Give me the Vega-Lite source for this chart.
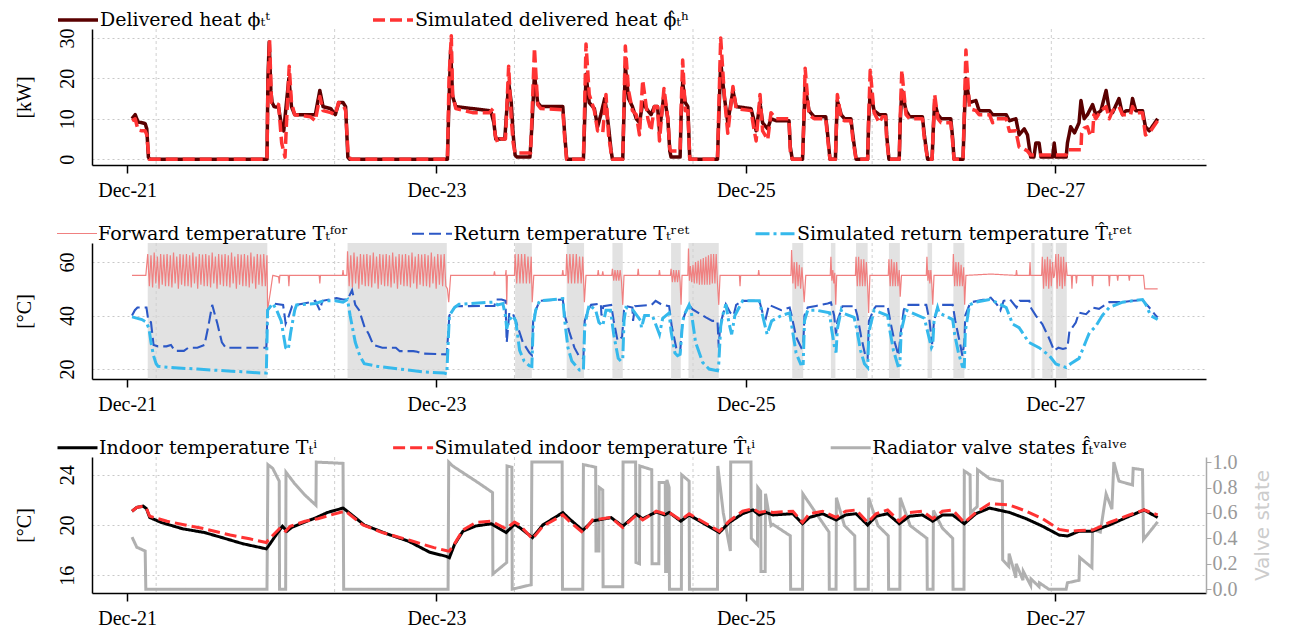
{
"$schema": "https://vega.github.io/schema/vega-lite/v6.json",
"background": "white",
"padding": {"left": 14, "top": 8, "right": 5, "bottom": 5},
"bounds": "flush",
"spacing": 78,
"resolve": {"scale": {"color": "independent", "strokeDash": "independent", "strokeWidth": "independent"}, "legend": {"color": "independent", "strokeDash": "independent", "strokeWidth": "independent"}},
"config": {
  "font": "Liberation Serif",
  "view": {"stroke": null},
  "axis": {"labelFont": "Liberation Serif", "titleFont": "Liberation Serif", "labelFontSize": 20, "titleFontSize": 20, "labelColor": "black", "titleColor": "black", "domainColor": "black", "domainWidth": 1.5, "tickColor": "black", "titleFontWeight": "normal", "gridColor": "#c8c8c8", "gridDash": [2, 3], "gridWidth": 1},
  "legend": {"labelFont": "DejaVu Serif", "labelFontSize": 19, "labelLimit": 600, "symbolType": "M-2,0L2,0", "symbolSize": 400, "orient": "none", "direction": "horizontal", "labelOffset": 10}
},
"datasets": {
"vg": [{"h":4.5},{"h":32.2},{"h":60.1},{"h":87.8},{"h":115.6},{"h":143.4}],
"shade": [{"a":3.2,"b":21.75},{"a":34.2,"b":49.6},{"a":60.2,"b":62.8},{"a":68.2,"b":70.9},{"a":75.3,"b":76.9},{"a":84.4,"b":85.9},{"a":87.1,"b":91.8},{"a":103.2,"b":104.9},{"a":109.2,"b":109.9},{"a":113.1,"b":114.9},{"a":118.2,"b":119.9},{"a":124.2,"b":124.9},{"a":128.2,"b":129.9},{"a":140.3,"b":140.8},{"a":142.0,"b":143.7},{"a":144.1,"b":145.8}],
"hd": [{"h":0.76,"d":10},{"h":1.25,"d":11},{"h":1.7,"d":9.2},{"h":2.3,"d":9},{"h":2.8,"d":8.8},{"h":3.05,"d":7.5},{"h":3.3,"d":0.5},{"h":3.5,"d":0},{"h":21.7,"d":0},{"h":21.85,"d":20},{"h":22.05,"d":29},{"h":22.3,"d":17},{"h":22.5,"d":14},{"h":22.8,"d":13},{"h":23.5,"d":12.8},{"h":23.98,"d":8},{"h":24.3,"d":7},{"h":24.6,"d":12},{"h":25.1,"d":20},{"h":25.5,"d":13},{"h":26,"d":11},{"h":28.4,"d":11},{"h":29.2,"d":11},{"h":29.9,"d":17},{"h":30.4,"d":13},{"h":31.6,"d":12.5},{"h":32.3,"d":11},{"h":32.85,"d":14},{"h":33.5,"d":14},{"h":33.9,"d":13},{"h":34.25,"d":0.5},{"h":34.5,"d":0},{"h":49.7,"d":0},{"h":49.9,"d":12},{"h":50.2,"d":27},{"h":50.5,"d":15.5},{"h":51,"d":13},{"h":53.6,"d":12.5},{"h":56.2,"d":12},{"h":56.5,"d":11.5},{"h":56.9,"d":9},{"h":57.2,"d":5},{"h":58.6,"d":5},{"h":58.9,"d":12},{"h":59.2,"d":19},{"h":59.6,"d":14},{"h":59.9,"d":6},{"h":60.2,"d":1},{"h":60.5,"d":0.5},{"h":62.5,"d":0.5},{"h":62.8,"d":8},{"h":63.2,"d":21},{"h":63.7,"d":14},{"h":64.2,"d":13},{"h":67.6,"d":13},{"h":67.9,"d":6},{"h":68.2,"d":0},{"h":70.8,"d":0},{"h":71,"d":10},{"h":71.2,"d":21},{"h":71.7,"d":14},{"h":72.5,"d":12.5},{"h":73,"d":8},{"h":73.5,"d":11},{"h":74.1,"d":15},{"h":74.4,"d":12},{"h":74.7,"d":8},{"h":75.1,"d":2},{"h":75.3,"d":0},{"h":76.9,"d":0},{"h":77.1,"d":12},{"h":77.3,"d":23},{"h":77.8,"d":15},{"h":78.4,"d":13},{"h":79,"d":10},{"h":79.5,"d":9},{"h":80,"d":14},{"h":80.8,"d":12},{"h":81.3,"d":11},{"h":81.8,"d":13},{"h":82.3,"d":13},{"h":82.6,"d":7},{"h":83.3,"d":16},{"h":83.9,"d":10},{"h":84.2,"d":2},{"h":84.4,"d":0.5},{"h":85.8,"d":0.5},{"h":85.95,"d":10},{"h":86.2,"d":19},{"h":86.6,"d":14},{"h":87,"d":13},{"h":87.3,"d":0},{"h":91.6,"d":0},{"h":91.8,"d":10},{"h":92.1,"d":24},{"h":92.7,"d":15},{"h":93.2,"d":9},{"h":94,"d":17},{"h":94.5,"d":13},{"h":96.8,"d":12.5},{"h":97.2,"d":10},{"h":97.6,"d":7},{"h":98.2,"d":14},{"h":98.6,"d":9},{"h":99.4,"d":7.5},{"h":99.9,"d":10},{"h":100.7,"d":9.5},{"h":102.7,"d":9.5},{"h":102.9,"d":3},{"h":103.2,"d":0},{"h":104.8,"d":0},{"h":105,"d":9},{"h":105.2,"d":18},{"h":105.8,"d":12},{"h":106.6,"d":10.5},{"h":108.4,"d":10.5},{"h":108.7,"d":6},{"h":109.05,"d":0},{"h":109.9,"d":0},{"h":110.05,"d":8},{"h":110.2,"d":14.5},{"h":110.8,"d":11},{"h":111.3,"d":10},{"h":112.3,"d":10},{"h":112.6,"d":6},{"h":113.1,"d":0},{"h":114.9,"d":0},{"h":115.05,"d":9},{"h":115.3,"d":17},{"h":115.9,"d":12},{"h":116.7,"d":11},{"h":117.7,"d":11},{"h":117.85,"d":6},{"h":118.2,"d":0},{"h":119.8,"d":0},{"h":119.95,"d":9},{"h":120.2,"d":17},{"h":120.85,"d":12},{"h":121.4,"d":10.5},{"h":123.4,"d":10.5},{"h":123.7,"d":6},{"h":124.2,"d":0},{"h":124.9,"d":0},{"h":125.1,"d":8},{"h":125.3,"d":14},{"h":125.8,"d":11},{"h":126.3,"d":10},{"h":127.8,"d":10},{"h":128.1,"d":5},{"h":128.3,"d":0},{"h":129.7,"d":0},{"h":129.9,"d":10},{"h":130.15,"d":20},{"h":130.7,"d":14},{"h":131.7,"d":14.5},{"h":132.2,"d":12},{"h":133.8,"d":12},{"h":134.3,"d":11},{"h":134.8,"d":11},{"h":136.4,"d":11},{"h":136.9,"d":9.5},{"h":137.9,"d":10},{"h":138.4,"d":6},{"h":139.2,"d":7.5},{"h":139.7,"d":6},{"h":140.2,"d":0.5},{"h":140.7,"d":0.5},{"h":141,"d":4},{"h":141.5,"d":4},{"h":141.8,"d":0.5},{"h":143.6,"d":0.5},{"h":143.85,"d":4},{"h":144.1,"d":0.5},{"h":145.7,"d":0.5},{"h":145.9,"d":4},{"h":146.4,"d":8},{"h":147,"d":6.5},{"h":147.7,"d":9},{"h":148,"d":14.5},{"h":148.5,"d":10},{"h":149,"d":11},{"h":149.8,"d":13.5},{"h":150.3,"d":11},{"h":151.1,"d":12},{"h":151.9,"d":17},{"h":152.4,"d":12},{"h":152.9,"d":11.5},{"h":153.9,"d":15},{"h":154.45,"d":11},{"h":155,"d":12},{"h":155.7,"d":12},{"h":156,"d":15},{"h":156.5,"d":12},{"h":157.55,"d":12},{"h":158,"d":8},{"h":158.6,"d":7},{"h":159.9,"d":10}],
"hr": [{"h":0.76,"r":9.5},{"h":1.25,"r":10},{"h":1.7,"r":7.2},{"h":2.3,"r":7},{"h":2.8,"r":7},{"h":3.05,"r":6},{"h":3.4,"r":0},{"h":21.7,"r":0},{"h":21.85,"r":18},{"h":22.1,"r":29.5},{"h":22.4,"r":14},{"h":22.8,"r":14},{"h":23.5,"r":13.5},{"h":23.98,"r":4},{"h":24.5,"r":0.5},{"h":24.7,"r":8},{"h":25.15,"r":23},{"h":25.5,"r":14},{"h":26,"r":11},{"h":28.4,"r":10.5},{"h":29.2,"r":9.5},{"h":29.9,"r":15.5},{"h":30.4,"r":12},{"h":31.6,"r":11.5},{"h":32.3,"r":11},{"h":32.8,"r":14},{"h":33.5,"r":13.5},{"h":33.9,"r":12},{"h":34.3,"r":1},{"h":34.7,"r":0},{"h":49.7,"r":0},{"h":49.95,"r":20},{"h":50.3,"r":30.5},{"h":50.5,"r":16},{"h":51,"r":12.5},{"h":53.6,"r":11.5},{"h":56.2,"r":11.5},{"h":56.5,"r":12},{"h":56.8,"r":12.5},{"h":57.1,"r":6},{"h":57.5,"r":4},{"h":58,"r":5},{"h":58.7,"r":5},{"h":58.95,"r":14},{"h":59.2,"r":23},{"h":59.6,"r":10},{"h":59.9,"r":4},{"h":60.2,"r":1.5},{"h":62.6,"r":1.5},{"h":62.8,"r":10},{"h":63.2,"r":27.5},{"h":63.7,"r":13.5},{"h":64.2,"r":12.5},{"h":67.6,"r":12.2},{"h":67.9,"r":5},{"h":68.2,"r":0},{"h":70.8,"r":0},{"h":71,"r":14},{"h":71.2,"r":28.5},{"h":71.7,"r":16},{"h":72.5,"r":12},{"h":73,"r":7},{"h":73.8,"r":6.5},{"h":74.3,"r":16},{"h":74.7,"r":6},{"h":75.1,"r":1.5},{"h":75.3,"r":0},{"h":76.9,"r":0},{"h":77.1,"r":14},{"h":77.3,"r":28},{"h":77.8,"r":17},{"h":78.4,"r":12},{"h":79,"r":11},{"h":79.5,"r":6},{"h":80,"r":19.5},{"h":80.8,"r":10},{"h":81.3,"r":7},{"h":81.8,"r":13},{"h":82.3,"r":13},{"h":82.6,"r":4.5},{"h":83.3,"r":17.5},{"h":83.9,"r":10},{"h":84.2,"r":2.5},{"h":84.4,"r":2},{"h":85.8,"r":2},{"h":85.95,"r":12},{"h":86.2,"r":24.5},{"h":86.6,"r":12},{"h":87,"r":12},{"h":87.3,"r":0},{"h":91.6,"r":0},{"h":91.8,"r":12},{"h":92.1,"r":30},{"h":92.7,"r":15},{"h":93.2,"r":6.4},{"h":94,"r":18},{"h":94.5,"r":12.5},{"h":96.8,"r":12},{"h":97.2,"r":8},{"h":97.6,"r":4.5},{"h":98.2,"r":16},{"h":98.6,"r":7},{"h":99.4,"r":4.8},{"h":99.9,"r":11.5},{"h":100.7,"r":10},{"h":102.7,"r":10},{"h":102.9,"r":2},{"h":103.2,"r":0},{"h":104.8,"r":0},{"h":105,"r":10},{"h":105.2,"r":22.5},{"h":105.8,"r":11},{"h":106.6,"r":10},{"h":108.4,"r":10},{"h":108.7,"r":5},{"h":109.05,"r":0},{"h":109.9,"r":0},{"h":110.05,"r":8},{"h":110.2,"r":16},{"h":110.8,"r":10},{"h":111.3,"r":9.5},{"h":112.3,"r":9.5},{"h":112.6,"r":5},{"h":113.1,"r":0},{"h":114.9,"r":0},{"h":115.05,"r":10},{"h":115.3,"r":22},{"h":115.9,"r":11.5},{"h":116.7,"r":9},{"h":117.2,"r":10.5},{"h":117.7,"r":10.5},{"h":117.85,"r":5},{"h":118.2,"r":0},{"h":119.8,"r":0},{"h":119.95,"r":10},{"h":120.2,"r":22},{"h":120.85,"r":11},{"h":121.4,"r":10},{"h":123.4,"r":10},{"h":123.7,"r":5},{"h":124.2,"r":0},{"h":124.9,"r":0},{"h":125.1,"r":8},{"h":125.3,"r":16},{"h":125.8,"r":10},{"h":126.3,"r":9},{"h":127.8,"r":9},{"h":128.1,"r":4},{"h":128.3,"r":0},{"h":129.7,"r":0},{"h":129.9,"r":12},{"h":130.15,"r":27},{"h":130.7,"r":12.5},{"h":131.7,"r":12},{"h":132.2,"r":11},{"h":133.8,"r":11},{"h":134.3,"r":9},{"h":134.8,"r":10},{"h":136.4,"r":10},{"h":136.9,"r":6.9},{"h":137.9,"r":7},{"h":138.4,"r":3},{"h":139.2,"r":2.5},{"h":139.7,"r":2},{"h":140.2,"r":1},{"h":145.7,"r":1},{"h":145.9,"r":2.3},{"h":148,"r":2.3},{"h":148.1,"r":6.4},{"h":148.5,"r":7.7},{"h":149,"r":8},{"h":149.4,"r":6},{"h":149.8,"r":6},{"h":150,"r":11},{"h":150.3,"r":10},{"h":151.1,"r":12},{"h":151.9,"r":13},{"h":152.4,"r":10},{"h":152.9,"r":12},{"h":153.9,"r":13},{"h":154.45,"r":11},{"h":155.7,"r":11},{"h":156,"r":13},{"h":156.5,"r":11.5},{"h":157.55,"r":11.5},{"h":158,"r":6},{"h":158.6,"r":6.5},{"h":159.9,"r":9.5}],
"fw": [{"h":0.76,"f":55},{"h":2.9,"f":55},{"h":3.2,"f":63},{"h":3.45,"f":51},{"h":3.7,"f":62.5},{"h":3.95,"f":50.5},{"h":4.2,"f":63.5},{"h":4.45,"f":52},{"h":4.7,"f":62},{"h":4.95,"f":50},{"h":5.2,"f":63},{"h":5.45,"f":51.5},{"h":5.7,"f":62.8},{"h":5.95,"f":51},{"h":6.2,"f":63},{"h":6.45,"f":51},{"h":6.7,"f":62.5},{"h":6.95,"f":50.5},{"h":7.2,"f":63.5},{"h":7.45,"f":52},{"h":7.7,"f":62},{"h":7.95,"f":50},{"h":8.2,"f":63},{"h":8.45,"f":51.5},{"h":8.7,"f":62.8},{"h":8.95,"f":51},{"h":9.2,"f":63},{"h":9.45,"f":51},{"h":9.7,"f":62.5},{"h":9.95,"f":50.5},{"h":10.2,"f":63.5},{"h":10.45,"f":52},{"h":10.7,"f":62},{"h":10.95,"f":50},{"h":11.2,"f":63},{"h":11.45,"f":51.5},{"h":11.7,"f":62.8},{"h":11.95,"f":51},{"h":12.2,"f":63},{"h":12.45,"f":51},{"h":12.7,"f":62.5},{"h":12.95,"f":50.5},{"h":13.2,"f":63.5},{"h":13.45,"f":52},{"h":13.7,"f":62},{"h":13.95,"f":50},{"h":14.2,"f":63},{"h":14.45,"f":51.5},{"h":14.7,"f":62.8},{"h":14.95,"f":51},{"h":15.2,"f":63},{"h":15.45,"f":51},{"h":15.7,"f":62.5},{"h":15.95,"f":50.5},{"h":16.2,"f":63.5},{"h":16.45,"f":52},{"h":16.7,"f":62},{"h":16.95,"f":50},{"h":17.2,"f":63},{"h":17.45,"f":51.5},{"h":17.7,"f":62.8},{"h":17.95,"f":51},{"h":18.2,"f":63},{"h":18.45,"f":51},{"h":18.7,"f":62.5},{"h":18.95,"f":50.5},{"h":19.2,"f":63.5},{"h":19.45,"f":52},{"h":19.7,"f":62},{"h":19.95,"f":50},{"h":20.2,"f":63},{"h":20.45,"f":51.5},{"h":20.7,"f":62.8},{"h":20.95,"f":51},{"h":21.2,"f":63},{"h":21.45,"f":51},{"h":21.7,"f":62.5},{"h":21.8,"f":42},{"h":22.3,"f":50},{"h":22.6,"f":55},{"h":23.5,"f":54.5},{"h":23.6,"f":52},{"h":23.7,"f":55},{"h":25,"f":55},{"h":25.1,"f":51},{"h":25.2,"f":55},{"h":29.8,"f":55},{"h":29.9,"f":52},{"h":30,"f":55},{"h":33.4,"f":55},{"h":33.5,"f":57},{"h":33.6,"f":55},{"h":34.1,"f":55},{"h":34.2,"f":64},{"h":34.45,"f":51},{"h":34.7,"f":62.5},{"h":34.95,"f":50.5},{"h":35.2,"f":63.5},{"h":35.45,"f":52},{"h":35.7,"f":62},{"h":35.95,"f":50},{"h":36.2,"f":63},{"h":36.45,"f":51.5},{"h":36.7,"f":62.8},{"h":36.95,"f":51},{"h":37.2,"f":63},{"h":37.45,"f":51},{"h":37.7,"f":62.5},{"h":37.95,"f":50.5},{"h":38.2,"f":63.5},{"h":38.45,"f":52},{"h":38.7,"f":62},{"h":38.95,"f":50},{"h":39.2,"f":63},{"h":39.45,"f":51.5},{"h":39.7,"f":62.8},{"h":39.95,"f":51},{"h":40.2,"f":63},{"h":40.45,"f":51},{"h":40.7,"f":62.5},{"h":40.95,"f":50.5},{"h":41.2,"f":63.5},{"h":41.45,"f":52},{"h":41.7,"f":62},{"h":41.95,"f":50},{"h":42.2,"f":63},{"h":42.45,"f":51.5},{"h":42.7,"f":62.8},{"h":42.95,"f":51},{"h":43.2,"f":63},{"h":43.45,"f":51},{"h":43.7,"f":62.5},{"h":43.95,"f":50.5},{"h":44.2,"f":63.5},{"h":44.45,"f":52},{"h":44.7,"f":62},{"h":44.95,"f":50},{"h":45.2,"f":63},{"h":45.45,"f":51.5},{"h":45.7,"f":62.8},{"h":45.95,"f":51},{"h":46.2,"f":63},{"h":46.45,"f":51},{"h":46.7,"f":62.5},{"h":46.95,"f":50.5},{"h":47.2,"f":63.5},{"h":47.45,"f":52},{"h":47.7,"f":62},{"h":47.95,"f":50},{"h":48.2,"f":63},{"h":48.45,"f":51.5},{"h":48.7,"f":62.8},{"h":48.95,"f":51},{"h":49.2,"f":63},{"h":49.45,"f":51},{"h":49.7,"f":50},{"h":49.9,"f":45},{"h":50.2,"f":55},{"h":56.9,"f":55},{"h":57,"f":56.5},{"h":57.1,"f":55},{"h":58.7,"f":55},{"h":58.8,"f":57},{"h":58.9,"f":44},{"h":59,"f":55},{"h":60.1,"f":55},{"h":60.2,"f":63},{"h":60.45,"f":52},{"h":60.7,"f":63},{"h":60.95,"f":52},{"h":61.2,"f":63},{"h":61.45,"f":52},{"h":61.7,"f":63},{"h":61.95,"f":52},{"h":62.2,"f":62},{"h":62.45,"f":52},{"h":62.7,"f":62},{"h":62.85,"f":45},{"h":63.1,"f":55},{"h":67.5,"f":55},{"h":67.6,"f":57},{"h":67.7,"f":55},{"h":68.1,"f":55},{"h":68.2,"f":63},{"h":68.45,"f":52},{"h":68.7,"f":63},{"h":68.95,"f":52},{"h":69.2,"f":63},{"h":69.45,"f":52},{"h":69.7,"f":63},{"h":69.95,"f":52},{"h":70.2,"f":62},{"h":70.45,"f":52},{"h":70.7,"f":62},{"h":70.95,"f":45},{"h":71.2,"f":55},{"h":73,"f":55},{"h":73.1,"f":57},{"h":73.2,"f":55},{"h":73.7,"f":55},{"h":73.8,"f":56.5},{"h":73.9,"f":55},{"h":75.2,"f":55},{"h":75.3,"f":57.5},{"h":75.5,"f":53},{"h":75.7,"f":57},{"h":75.9,"f":53},{"h":76.1,"f":57},{"h":76.3,"f":53},{"h":76.5,"f":57},{"h":76.7,"f":53},{"h":76.9,"f":44},{"h":77.1,"f":55},{"h":79.2,"f":55},{"h":79.3,"f":57.5},{"h":79.4,"f":55},{"h":82.5,"f":55},{"h":82.6,"f":57},{"h":82.7,"f":55},{"h":84.3,"f":55},{"h":84.4,"f":57.5},{"h":84.6,"f":52.5},{"h":84.8,"f":57},{"h":85,"f":52.5},{"h":85.2,"f":57},{"h":85.4,"f":52.5},{"h":85.6,"f":57},{"h":85.8,"f":52.5},{"h":85.95,"f":44},{"h":86.1,"f":55},{"h":87,"f":55},{"h":87.1,"f":65},{"h":87.25,"f":53},{"h":87.4,"f":58.5},{"h":87.6,"f":52.5},{"h":87.8,"f":59},{"h":88,"f":52},{"h":88.2,"f":60},{"h":88.4,"f":52},{"h":88.6,"f":60.5},{"h":88.8,"f":51.5},{"h":89,"f":61},{"h":89.2,"f":51.5},{"h":89.4,"f":61.5},{"h":89.6,"f":51.5},{"h":89.8,"f":62},{"h":90,"f":51.5},{"h":90.2,"f":62.5},{"h":90.4,"f":51.5},{"h":90.6,"f":63},{"h":90.8,"f":52},{"h":91,"f":63},{"h":91.2,"f":52},{"h":91.4,"f":63},{"h":91.6,"f":52},{"h":91.8,"f":44},{"h":92,"f":55},{"h":95,"f":55},{"h":95.1,"f":51},{"h":95.2,"f":55},{"h":97.9,"f":55},{"h":98,"f":57},{"h":98.1,"f":55},{"h":103.0,"f":55},{"h":103.1,"f":64.5},{"h":103.3,"f":52},{"h":103.5,"f":60},{"h":103.7,"f":50},{"h":103.9,"f":60},{"h":104.1,"f":51},{"h":104.3,"f":59},{"h":104.5,"f":50},{"h":104.7,"f":58},{"h":104.9,"f":51},{"h":105.05,"f":45},{"h":105.3,"f":55},{"h":109.1,"f":55},{"h":109.2,"f":62},{"h":109.35,"f":53},{"h":109.5,"f":57},{"h":109.65,"f":52},{"h":109.8,"f":56},{"h":109.95,"f":44},{"h":110.1,"f":55},{"h":113,"f":55},{"h":113.1,"f":62},{"h":113.3,"f":51},{"h":113.5,"f":62},{"h":113.7,"f":51},{"h":113.9,"f":61},{"h":114.1,"f":51},{"h":114.3,"f":61},{"h":114.5,"f":51},{"h":114.7,"f":60},{"h":114.9,"f":51},{"h":115.05,"f":41},{"h":115.25,"f":55},{"h":118.1,"f":55},{"h":118.2,"f":61},{"h":118.4,"f":51},{"h":118.6,"f":61},{"h":118.8,"f":51},{"h":119,"f":60},{"h":119.2,"f":51},{"h":119.4,"f":60},{"h":119.6,"f":51},{"h":119.8,"f":57},{"h":119.95,"f":47},{"h":120.15,"f":55},{"h":124,"f":55},{"h":124.1,"f":62},{"h":124.25,"f":53},{"h":124.4,"f":57},{"h":124.55,"f":52},{"h":124.7,"f":57},{"h":124.85,"f":52},{"h":125,"f":44},{"h":125.2,"f":55},{"h":128.1,"f":55},{"h":128.2,"f":63},{"h":128.4,"f":51},{"h":128.6,"f":60},{"h":128.8,"f":51},{"h":129,"f":60},{"h":129.2,"f":51},{"h":129.4,"f":59},{"h":129.6,"f":51},{"h":129.8,"f":58},{"h":129.95,"f":44},{"h":130.15,"f":55},{"h":134,"f":55.5},{"h":137.9,"f":55},{"h":138,"f":57},{"h":138.1,"f":55},{"h":140,"f":55},{"h":140.1,"f":60},{"h":140.2,"f":55},{"h":141.9,"f":55},{"h":142,"f":62},{"h":142.2,"f":50},{"h":142.4,"f":61},{"h":142.6,"f":51},{"h":142.8,"f":62},{"h":143,"f":50},{"h":143.2,"f":61},{"h":143.4,"f":51},{"h":143.6,"f":60},{"h":143.75,"f":54},{"h":143.9,"f":55},{"h":144.1,"f":63},{"h":144.3,"f":50},{"h":144.5,"f":63},{"h":144.7,"f":51},{"h":144.9,"f":62},{"h":145.1,"f":50},{"h":145.3,"f":62},{"h":145.5,"f":51},{"h":145.7,"f":60},{"h":145.85,"f":55},{"h":146.5,"f":55},{"h":146.6,"f":50},{"h":146.7,"f":55},{"h":147.2,"f":55},{"h":147.3,"f":52},{"h":147.4,"f":55},{"h":149.7,"f":55},{"h":149.8,"f":51},{"h":149.9,"f":55},{"h":152.3,"f":55},{"h":152.4,"f":51},{"h":152.5,"f":55},{"h":153.6,"f":55},{"h":153.7,"f":53},{"h":153.8,"f":55},{"h":155.4,"f":55},{"h":155.5,"f":53},{"h":155.6,"f":55},{"h":157.7,"f":55},{"h":157.9,"f":50},{"h":159.9,"f":50}],
"rt": [{"h":0.76,"t":40},{"h":1.2,"t":42},{"h":1.6,"t":43},{"h":3.0,"t":43},{"h":3.3,"t":38},{"h":3.7,"t":37.5},{"h":4.1,"t":29},{"h":4.8,"t":28.5},{"h":6.1,"t":28.5},{"h":6.8,"t":29},{"h":7.4,"t":26.8},{"h":8.8,"t":26.8},{"h":9.5,"t":28},{"h":10.9,"t":28},{"h":12,"t":29},{"h":12.6,"t":36},{"h":13.2,"t":44},{"h":14,"t":37},{"h":14.7,"t":30},{"h":15.3,"t":28},{"h":21.6,"t":28},{"h":21.8,"t":42},{"h":22.6,"t":44.5},{"h":24.2,"t":44},{"h":24.6,"t":37},{"h":25.1,"t":40},{"h":25.6,"t":43.5},{"h":26.3,"t":44},{"h":28.5,"t":45},{"h":29.2,"t":45.5},{"h":29.9,"t":42},{"h":30.3,"t":45.5},{"h":32.5,"t":46.5},{"h":33.5,"t":46},{"h":34.2,"t":46},{"h":34.9,"t":49.5},{"h":35.4,"t":44},{"h":36,"t":42},{"h":36.8,"t":36},{"h":37.5,"t":33},{"h":38.2,"t":29},{"h":39.6,"t":28},{"h":41.7,"t":28},{"h":42.3,"t":26.7},{"h":44.4,"t":26.7},{"h":45,"t":26.5},{"h":45.8,"t":25.8},{"h":49.6,"t":25.5},{"h":50,"t":40},{"h":50.8,"t":43},{"h":51,"t":43.5},{"h":57,"t":43.6},{"h":57.2,"t":46},{"h":58.1,"t":46},{"h":58.7,"t":45.5},{"h":58.9,"t":30},{"h":59.3,"t":41},{"h":59.8,"t":41},{"h":60.3,"t":38},{"h":61.4,"t":30},{"h":62.4,"t":26.2},{"h":62.8,"t":25.2},{"h":63,"t":38},{"h":63.4,"t":42},{"h":64,"t":45.5},{"h":67.6,"t":46},{"h":67.9,"t":40},{"h":68.6,"t":34},{"h":69.4,"t":28},{"h":70.2,"t":24.5},{"h":70.8,"t":24},{"h":71,"t":38},{"h":71.5,"t":42},{"h":72,"t":44},{"h":73.5,"t":44.5},{"h":73.6,"t":40},{"h":73.9,"t":43.5},{"h":75.1,"t":44},{"h":75.5,"t":38},{"h":76.1,"t":30.6},{"h":76.8,"t":32},{"h":77.1,"t":42},{"h":77.4,"t":43.5},{"h":78.4,"t":43},{"h":78.5,"t":38},{"h":78.8,"t":43.5},{"h":81.4,"t":44},{"h":82,"t":45.5},{"h":83,"t":44},{"h":84.1,"t":43.5},{"h":84.5,"t":36},{"h":85.2,"t":28},{"h":85.8,"t":26.2},{"h":86.2,"t":38},{"h":86.6,"t":41},{"h":87.2,"t":44},{"h":87.7,"t":42.4},{"h":89.8,"t":39.3},{"h":90.8,"t":38},{"h":91.6,"t":38},{"h":91.8,"t":28},{"h":92,"t":36},{"h":92.4,"t":40},{"h":92.9,"t":44.2},{"h":93.6,"t":41},{"h":94.1,"t":40},{"h":94.5,"t":44},{"h":95.5,"t":45.5},{"h":98.1,"t":45.5},{"h":98.6,"t":41},{"h":99.1,"t":39},{"h":99.6,"t":44},{"h":101.5,"t":42},{"h":102.8,"t":43},{"h":103.1,"t":40},{"h":103.8,"t":32},{"h":104.6,"t":28},{"h":104.9,"t":29},{"h":105.1,"t":40},{"h":105.6,"t":43},{"h":106.9,"t":43.6},{"h":108.7,"t":44.5},{"h":109.2,"t":44.9},{"h":109.7,"t":40},{"h":110,"t":33},{"h":110.2,"t":38},{"h":110.8,"t":42},{"h":111,"t":43.5},{"h":112.9,"t":43.5},{"h":113.3,"t":40},{"h":113.9,"t":32},{"h":114.6,"t":24.4},{"h":114.9,"t":24},{"h":115.1,"t":38},{"h":115.9,"t":42.5},{"h":116.2,"t":43.5},{"h":118,"t":43.5},{"h":118.4,"t":38},{"h":119.1,"t":30},{"h":119.7,"t":25},{"h":120,"t":33},{"h":120.5,"t":42},{"h":120.85,"t":44},{"h":124,"t":44},{"h":124.5,"t":38},{"h":124.9,"t":29.3},{"h":125.2,"t":38},{"h":125.75,"t":43},{"h":126,"t":44},{"h":128.1,"t":44},{"h":128.5,"t":38},{"h":129.2,"t":30},{"h":129.6,"t":25},{"h":129.9,"t":30},{"h":130.05,"t":40},{"h":130.7,"t":44},{"h":131,"t":45},{"h":133,"t":46},{"h":134,"t":46.7},{"h":135,"t":44},{"h":135.5,"t":42},{"h":136,"t":45.5},{"h":137,"t":46},{"h":138,"t":43},{"h":138.5,"t":45.5},{"h":140,"t":45.5},{"h":140.2,"t":43},{"h":141,"t":40},{"h":142,"t":36.8},{"h":143,"t":31.8},{"h":143.85,"t":26.9},{"h":144.5,"t":28},{"h":145.2,"t":27.5},{"h":145.9,"t":28},{"h":146.2,"t":34},{"h":147.2,"t":37.4},{"h":147.7,"t":41.1},{"h":148.8,"t":40.5},{"h":149.8,"t":43},{"h":150.8,"t":42.5},{"h":152.4,"t":45},{"h":154.45,"t":45},{"h":156,"t":45.5},{"h":157.55,"t":45.8},{"h":158.6,"t":43},{"h":159.6,"t":40},{"h":159.9,"t":39.3}],
"sr": [{"h":0.76,"s":39.5},{"h":2.3,"s":38.5},{"h":3.0,"s":37.5},{"h":3.4,"s":35},{"h":3.7,"s":30},{"h":4.1,"s":25},{"h":4.5,"s":22},{"h":4.8,"s":21},{"h":7.4,"s":20.5},{"h":10.9,"s":20},{"h":14.3,"s":19.5},{"h":17.8,"s":19},{"h":21.2,"s":18.5},{"h":21.6,"s":18.5},{"h":21.8,"s":42},{"h":22.6,"s":44.5},{"h":23.2,"s":42},{"h":23.9,"s":38},{"h":24.6,"s":28},{"h":25,"s":27.3},{"h":25.4,"s":34},{"h":26,"s":42},{"h":26.3,"s":44},{"h":29.2,"s":44.5},{"h":30.5,"s":45.5},{"h":32.3,"s":45.5},{"h":33.5,"s":45},{"h":34.2,"s":46},{"h":34.6,"s":40},{"h":35.4,"s":30},{"h":36.1,"s":25},{"h":36.8,"s":22},{"h":38.9,"s":21},{"h":42.3,"s":20},{"h":45.8,"s":19},{"h":49.2,"s":18.5},{"h":49.6,"s":18.2},{"h":50,"s":40},{"h":50.8,"s":43},{"h":51.5,"s":44.2},{"h":56.7,"s":45},{"h":57.5,"s":44},{"h":58.3,"s":44.5},{"h":58.7,"s":40},{"h":58.9,"s":35},{"h":59.2,"s":38},{"h":59.8,"s":40},{"h":60.3,"s":38},{"h":60.9,"s":27},{"h":61.6,"s":23},{"h":62.4,"s":21.3},{"h":62.8,"s":21},{"h":63,"s":36},{"h":63.4,"s":42},{"h":64,"s":45.5},{"h":67.6,"s":46.3},{"h":67.9,"s":38},{"h":68.4,"s":28},{"h":69,"s":23},{"h":70.2,"s":19.6},{"h":70.8,"s":19.5},{"h":71,"s":36},{"h":71.5,"s":42},{"h":71.7,"s":44},{"h":72.7,"s":42},{"h":73.2,"s":37.4},{"h":73.8,"s":36.2},{"h":74.3,"s":42},{"h":75,"s":42},{"h":75.5,"s":33},{"h":76.2,"s":24},{"h":76.6,"s":23},{"h":76.9,"s":23.5},{"h":77.1,"s":38},{"h":77.4,"s":43},{"h":78.5,"s":42},{"h":79.7,"s":38},{"h":79.8,"s":35.5},{"h":80.3,"s":40},{"h":81.5,"s":40},{"h":82.6,"s":33},{"h":83.1,"s":39},{"h":84.1,"s":41},{"h":84.4,"s":34},{"h":85,"s":26},{"h":85.4,"s":25},{"h":85.8,"s":25.5},{"h":86.2,"s":38},{"h":86.6,"s":41},{"h":87.2,"s":44},{"h":87.5,"s":42},{"h":88.2,"s":30},{"h":89.3,"s":22.5},{"h":90.3,"s":20},{"h":91.6,"s":19.4},{"h":91.8,"s":22},{"h":92.1,"s":36},{"h":92.4,"s":40},{"h":92.9,"s":44.2},{"h":93.4,"s":37},{"h":93.8,"s":33},{"h":94.3,"s":40},{"h":95.5,"s":45.5},{"h":98.1,"s":45.5},{"h":98.6,"s":40},{"h":99.3,"s":33},{"h":100,"s":38},{"h":101.5,"s":40},{"h":102.8,"s":41},{"h":103.2,"s":35},{"h":103.8,"s":26},{"h":104.5,"s":21.9},{"h":104.9,"s":22},{"h":105.1,"s":38},{"h":105.6,"s":42},{"h":106.9,"s":42},{"h":109,"s":41},{"h":109.3,"s":35},{"h":109.8,"s":27.5},{"h":110,"s":26.2},{"h":110.2,"s":35},{"h":110.8,"s":42},{"h":111,"s":41},{"h":112.8,"s":39.3},{"h":113.2,"s":35},{"h":113.8,"s":27},{"h":114.4,"s":22},{"h":114.9,"s":20.6},{"h":115.1,"s":34},{"h":115.9,"s":42},{"h":118,"s":40},{"h":118.3,"s":35},{"h":118.9,"s":27},{"h":119.6,"s":21.3},{"h":119.9,"s":21.5},{"h":120.1,"s":34},{"h":120.85,"s":42},{"h":123.7,"s":39},{"h":124.2,"s":34},{"h":124.8,"s":28},{"h":125,"s":29},{"h":125.2,"s":38},{"h":125.75,"s":43},{"h":126,"s":41},{"h":128.1,"s":38.5},{"h":128.4,"s":33},{"h":129,"s":26},{"h":129.6,"s":21},{"h":129.9,"s":20.9},{"h":130.05,"s":34},{"h":130.7,"s":44},{"h":131.7,"s":45},{"h":133.8,"s":46},{"h":134.8,"s":45},{"h":136.4,"s":43},{"h":137.4,"s":36.8},{"h":138.4,"s":35.5},{"h":139.9,"s":30},{"h":141.5,"s":28},{"h":143.1,"s":25},{"h":144.1,"s":21.9},{"h":145.7,"s":20.6},{"h":146.4,"s":22},{"h":147.7,"s":24},{"h":148.8,"s":30.6},{"h":149.3,"s":33.5},{"h":150.3,"s":36},{"h":151.3,"s":40},{"h":152.4,"s":43},{"h":154.45,"s":45},{"h":157.55,"s":46},{"h":158.1,"s":44},{"h":158.8,"s":40},{"h":159.9,"s":38.5}],
"ti": [{"h":0.76,"i":21.1},{"h":1.5,"i":21.4},{"h":2.5,"i":21.5},{"h":3,"i":21.3},{"h":3.5,"i":20.6},{"h":5.3,"i":20.2},{"h":8.6,"i":19.7},{"h":12,"i":19.4},{"h":14.7,"i":19.0},{"h":18,"i":18.5},{"h":21.6,"i":18.1},{"h":21.9,"i":18.3},{"h":23.1,"i":19.2},{"h":24.1,"i":19.9},{"h":24.8,"i":19.5},{"h":25.5,"i":19.8},{"h":28.4,"i":20.4},{"h":29.4,"i":20.6},{"h":31.1,"i":21.0},{"h":33.5,"i":21.35},{"h":33.9,"i":21.2},{"h":36.8,"i":20.0},{"h":40.3,"i":19.3},{"h":43.7,"i":18.7},{"h":46.9,"i":17.84},{"h":49.5,"i":17.5},{"h":50,"i":17.39},{"h":50.8,"i":18.45},{"h":52.1,"i":19.5},{"h":54.1,"i":19.92},{"h":56.5,"i":20.1},{"h":58.8,"i":19.4},{"h":60.1,"i":20.05},{"h":60.9,"i":19.8},{"h":62.9,"i":19.0},{"h":64.5,"i":20.0},{"h":67.6,"i":20.99},{"h":68.6,"i":20.5},{"h":70.7,"i":19.57},{"h":72.2,"i":20.32},{"h":75.1,"i":20.59},{"h":76.9,"i":19.9},{"h":79,"i":20.85},{"h":80,"i":20.5},{"h":82.1,"i":21.04},{"h":83.4,"i":20.8},{"h":84.1,"i":21.0},{"h":85.9,"i":20.3},{"h":87.2,"i":20.8},{"h":91.9,"i":19.4},{"h":93.4,"i":20.19},{"h":95.5,"i":20.9},{"h":97.1,"i":21.2},{"h":98.1,"i":20.8},{"h":99.1,"i":21.0},{"h":100.2,"i":20.8},{"h":103.3,"i":20.9},{"h":104.8,"i":20.1},{"h":105.85,"i":20.6},{"h":107.9,"i":20.9},{"h":110,"i":20.4},{"h":111.5,"i":20.8},{"h":113.1,"i":20.9},{"h":114.9,"i":20.0},{"h":116.2,"i":20.7},{"h":118,"i":20.9},{"h":119.8,"i":20.1},{"h":121.4,"i":20.7},{"h":123.4,"i":20.8},{"h":125,"i":20.3},{"h":126.5,"i":20.8},{"h":128.1,"i":20.8},{"h":129.9,"i":20.1},{"h":131.7,"i":20.9},{"h":133.8,"i":21.35},{"h":136.9,"i":21.0},{"h":139.5,"i":20.5},{"h":142.05,"i":19.9},{"h":144.6,"i":19.2},{"h":145.9,"i":19.12},{"h":147.7,"i":19.5},{"h":149.8,"i":19.5},{"h":152.4,"i":20.0},{"h":155.5,"i":20.7},{"h":157.8,"i":21.2},{"h":159.9,"i":20.6}],
"si": [{"h":0.76,"j":21.1},{"h":1.5,"j":21.4},{"h":2.5,"j":21.5},{"h":3,"j":21.3},{"h":3.5,"j":20.7},{"h":6.2,"j":20.3},{"h":9,"j":20.0},{"h":12,"j":19.7},{"h":16,"j":19.2},{"h":19,"j":18.9},{"h":21.6,"j":18.6},{"h":21.9,"j":18.8},{"h":23.8,"j":19.8},{"h":24.6,"j":19.5},{"h":25.3,"j":19.9},{"h":27.6,"j":20.3},{"h":29.6,"j":20.5},{"h":33,"j":21.0},{"h":33.9,"j":21.1},{"h":36.6,"j":20.0},{"h":39.6,"j":19.4},{"h":43.7,"j":18.8},{"h":47.6,"j":18.2},{"h":49.6,"j":17.95},{"h":50,"j":17.92},{"h":50.8,"j":18.5},{"h":52.1,"j":19.6},{"h":54.1,"j":20.2},{"h":56.5,"j":20.3},{"h":58.8,"j":19.7},{"h":60.1,"j":20.24},{"h":60.9,"j":20.0},{"h":62.9,"j":18.9},{"h":64.5,"j":19.9},{"h":67.6,"j":20.8},{"h":68.6,"j":20.3},{"h":70.7,"j":19.4},{"h":72.2,"j":20.4},{"h":75.1,"j":20.6},{"h":76.9,"j":19.8},{"h":79,"j":20.8},{"h":80,"j":20.4},{"h":82.1,"j":21.1},{"h":83.4,"j":20.9},{"h":84.1,"j":21.0},{"h":85.9,"j":20.4},{"h":87.2,"j":20.9},{"h":91.9,"j":19.5},{"h":93.4,"j":20.3},{"h":95.5,"j":21.1},{"h":97.1,"j":21.3},{"h":98.1,"j":21.0},{"h":99.1,"j":21.1},{"h":100.2,"j":21.0},{"h":103.3,"j":21.1},{"h":104.8,"j":20.2},{"h":105.85,"j":20.9},{"h":107.9,"j":21.1},{"h":110,"j":20.6},{"h":111.5,"j":21.1},{"h":113.1,"j":21.2},{"h":114.9,"j":20.2},{"h":116.2,"j":20.9},{"h":118,"j":21.2},{"h":119.8,"j":20.3},{"h":121.4,"j":21.0},{"h":123.4,"j":21.1},{"h":125,"j":20.5},{"h":126.5,"j":21.1},{"h":128.1,"j":21.2},{"h":129.9,"j":20.2},{"h":131.7,"j":21.0},{"h":133.8,"j":21.7},{"h":136.9,"j":21.6},{"h":139.5,"j":21.1},{"h":142.05,"j":20.5},{"h":144.6,"j":19.65},{"h":146.5,"j":19.5},{"h":147.7,"j":19.57},{"h":149.8,"j":19.6},{"h":152.4,"j":20.2},{"h":155.5,"j":20.8},{"h":157.8,"j":21.2},{"h":159.9,"j":20.8}],
"vv": [{"h":0.76,"w":0.41},{"h":1.5,"w":0.33},{"h":2.8,"w":0.3},{"h":2.9,"w":0},{"h":21.7,"w":0},{"h":21.85,"w":0.98},{"h":22.6,"w":0.95},{"h":23.6,"w":0.85},{"h":23.65,"w":0},{"h":24.6,"w":0},{"h":24.65,"w":0.92},{"h":26,"w":0.83},{"h":27.6,"w":0.74},{"h":29.3,"w":0.66},{"h":29.35,"w":1.0},{"h":33.5,"w":0.99},{"h":33.6,"w":0},{"h":49.8,"w":0},{"h":49.9,"w":1.0},{"h":50.5,"w":0.97},{"h":52.6,"w":0.9},{"h":54.7,"w":0.83},{"h":56.7,"w":0.76},{"h":56.75,"w":0.12},{"h":58.9,"w":0.21},{"h":58.95,"w":0.97},{"h":59.7,"w":0.96},{"h":59.75,"w":0},{"h":62.7,"w":0.035},{"h":62.8,"w":1.0},{"h":67.5,"w":1.0},{"h":67.55,"w":0},{"h":70.7,"w":0},{"h":70.8,"w":0.98},{"h":72.7,"w":0.96},{"h":72.75,"w":0.3},{"h":73.2,"w":0.3},{"h":73.25,"w":0.8},{"h":73.8,"w":0.78},{"h":73.85,"w":0.02},{"h":76.9,"w":0.02},{"h":76.95,"w":1.0},{"h":78.9,"w":1.0},{"h":78.95,"w":0.21},{"h":79.5,"w":0.2},{"h":79.55,"w":0.97},{"h":81.4,"w":0.94},{"h":81.45,"w":0.2},{"h":82.5,"w":0.2},{"h":82.55,"w":0.84},{"h":83.5,"w":0.84},{"h":83.55,"w":0.14},{"h":83.7,"w":0.14},{"h":83.75,"w":0.86},{"h":84.1,"w":0.8},{"h":84.15,"w":0},{"h":86,"w":0},{"h":86.05,"w":0.9},{"h":87.2,"w":0.85},{"h":87.25,"w":0},{"h":91.6,"w":0},{"h":91.65,"w":0.97},{"h":92.5,"w":0.6},{"h":93.6,"w":0.3},{"h":93.65,"w":1.0},{"h":96.8,"w":1.0},{"h":96.85,"w":0.4},{"h":97.8,"w":0.35},{"h":97.85,"w":0.8},{"h":98.3,"w":0.77},{"h":98.35,"w":0.14},{"h":99,"w":0.14},{"h":99.05,"w":0.75},{"h":99.9,"w":0.5},{"h":100.2,"w":0.51},{"h":102.9,"w":0.42},{"h":102.95,"w":0},{"h":104.8,"w":0},{"h":104.85,"w":0.75},{"h":107.4,"w":0.56},{"h":108.9,"w":0.45},{"h":108.95,"w":0},{"h":110,"w":0},{"h":110.05,"w":0.72},{"h":111.3,"w":0.5},{"h":112.9,"w":0.42},{"h":112.95,"w":0},{"h":115,"w":0},{"h":115.05,"w":0.72},{"h":116.5,"w":0.5},{"h":118.1,"w":0.42},{"h":118.15,"w":0},{"h":119.9,"w":0},{"h":119.95,"w":0.72},{"h":121.5,"w":0.5},{"h":124.1,"w":0.4},{"h":124.15,"w":0},{"h":125.05,"w":0},{"h":125.1,"w":0.62},{"h":126.5,"w":0.48},{"h":128.1,"w":0.4},{"h":128.15,"w":0},{"h":129.85,"w":0},{"h":129.9,"w":0.93},{"h":130.8,"w":0.9},{"h":130.85,"w":0.6},{"h":131.9,"w":0.65},{"h":131.95,"w":0.94},{"h":133.8,"w":0.87},{"h":135.8,"w":0.85},{"h":135.85,"w":0.23},{"h":136.8,"w":0.18},{"h":136.85,"w":0.28},{"h":137.9,"w":0.09},{"h":137.95,"w":0.2},{"h":139,"w":0.07},{"h":139.05,"w":0.14},{"h":140.2,"w":0.03},{"h":140.25,"w":0.08},{"h":141.5,"w":0.02},{"h":141.55,"w":0.05},{"h":143,"w":0},{"h":145.7,"w":0},{"h":145.9,"w":0.05},{"h":147.7,"w":0.07},{"h":147.8,"w":0.25},{"h":148.5,"w":0.22},{"h":149.7,"w":0.17},{"h":149.8,"w":0.47},{"h":151,"w":0.45},{"h":151.9,"w":0.75},{"h":152.8,"w":0.63},{"h":153.1,"w":1.0},{"h":153.9,"w":0.85},{"h":156,"w":0.82},{"h":156.1,"w":0.95},{"h":157.55,"w":0.94},{"h":157.7,"w":0.39},{"h":159.9,"w":0.53}]
},
"vconcat": [
{
  "width": 1114, "height": 136,
  "encoding": {"x": {"field": "h", "type": "quantitative", "scale": {"domain": [-5.45, 167.4], "nice": false, "zero": false}, "axis": {"values": [0, 48, 96, 144], "labelExpr": "'Dec-' + (21 + datum.value / 24)", "grid": false, "title": null, "tickSize": 8, "tickWidth": 1.5, "labelPadding": 7, "labelFlush": false}}},
  "layer": [
    {"data": {"name": "vg"}, "mark": {"type": "rule", "color": "#d0d0d0", "strokeDash": [3, 3], "strokeWidth": 1}},
    {"data": {"name": "hd"}, "transform": [{"fold": ["d"], "as": ["k", "v"]}], "mark": {"type": "line", "strokeJoin": "round"},
     "encoding": {
       "y": {"field": "v", "type": "quantitative", "scale": {"domain": [-1.45, 32.2], "nice": false, "zero": false}, "axis": {"values": [0, 5, 10, 15, 20, 25, 30], "labelExpr": "datum.value % 10 === 0 ? datum.label : ''", "grid": true, "ticks": false, "labelAngle": -90, "labelAlign": "center", "labelBaseline": "alphabetic", "labelPadding": 19, "title": "[kW]", "titleX": -58, "titleY": 68, "titleAngle": -90, "titleBaseline": "bottom", "titleAlign": "center"}},
       "color": {"field": "k", "type": "nominal", "scale": {"domain": ["d", "r"], "range": ["#5a0000", "#ff3333"]}, "legend": {"title": null, "legendX": -26, "legendY": -21, "columnPadding": 96, "labelExpr": "datum.label == 'd' ? 'Delivered heat ϕₜᵗ' : 'Simulated delivered heat ϕ̂ₜʰ'"}},
       "strokeDash": {"field": "k", "type": "nominal", "scale": {"domain": ["d", "r"], "range": [[1, 0], [12, 5]]}},
       "strokeWidth": {"field": "k", "type": "nominal", "scale": {"domain": ["d", "r"], "range": [3.5, 3.5]}}
     }},
    {"data": {"name": "hr"}, "transform": [{"fold": ["r"], "as": ["k", "v"]}], "mark": {"type": "line", "strokeJoin": "round"},
     "encoding": {
       "y": {"field": "v", "type": "quantitative", "scale": {"domain": [-1.45, 32.2], "nice": false, "zero": false}},
       "color": {"field": "k", "type": "nominal", "scale": {"domain": ["d", "r"], "range": ["#5a0000", "#ff3333"]}},
       "strokeDash": {"field": "k", "type": "nominal", "scale": {"domain": ["d", "r"], "range": [[1, 0], [12, 5]]}},
       "strokeWidth": {"field": "k", "type": "nominal", "scale": {"domain": ["d", "r"], "range": [3.5, 3.5]}}
     }}
  ]
},
{
  "width": 1114, "height": 136,
  "encoding": {"x": {"field": "h", "type": "quantitative", "scale": {"domain": [-5.45, 167.4], "nice": false, "zero": false}, "axis": {"values": [0, 48, 96, 144], "labelExpr": "'Dec-' + (21 + datum.value / 24)", "grid": false, "title": null, "tickSize": 8, "tickWidth": 1.5, "labelPadding": 7, "labelFlush": false}}},
  "layer": [
    {"data": {"name": "shade"}, "mark": {"type": "rect", "color": "#d8d8d8", "opacity": 0.75}, "encoding": {"x": {"field": "a", "type": "quantitative"}, "x2": {"field": "b"}}},
    {"data": {"name": "vg"}, "mark": {"type": "rule", "color": "#d0d0d0", "strokeDash": [3, 3], "strokeWidth": 1}},
    {"data": {"name": "fw"}, "transform": [{"fold": ["f"], "as": ["k", "v"]}], "mark": {"type": "line"},
     "encoding": {
       "y": {"field": "v", "type": "quantitative", "scale": {"domain": [16.3, 67.1], "nice": false, "zero": false}, "axis": {"values": [20, 30, 40, 50, 60], "labelExpr": "datum.value % 20 === 0 ? datum.label : ''", "grid": true, "ticks": false, "labelAngle": -90, "labelAlign": "center", "labelBaseline": "alphabetic", "labelPadding": 19, "title": "[°C]", "titleX": -58, "titleY": 68, "titleAngle": -90, "titleBaseline": "bottom", "titleAlign": "center"}},
       "color": {"field": "k", "type": "nominal", "scale": {"domain": ["f", "t", "s"], "range": ["#f08080", "#2c58c6", "#35b9ec"]}, "legend": {"title": null, "legendX": -26, "legendY": -21, "columnPadding": 59.5, "labelExpr": "datum.label == 'f' ? 'Forward temperature Tₜᶠᵒʳ' : datum.label == 't' ? 'Return temperature Tₜʳᵉᵗ\u00a0\u00a0\u00a0' : 'Simulated return temperature T̂ₜʳᵉᵗ'"}},
       "strokeDash": {"field": "k", "type": "nominal", "scale": {"domain": ["f", "t", "s"], "range": [[1, 0], [12, 5], [14, 4, 3, 4]]}},
       "strokeWidth": {"field": "k", "type": "nominal", "scale": {"domain": ["f", "t", "s"], "range": [1.2, 3, 3]}}
     }},
    {"data": {"name": "rt"}, "transform": [{"fold": ["t"], "as": ["k", "v"]}], "mark": {"type": "line"},
     "encoding": {
       "y": {"field": "v", "type": "quantitative", "scale": {"domain": [16.3, 67.1], "nice": false, "zero": false}},
       "color": {"field": "k", "type": "nominal", "scale": {"domain": ["f", "t", "s"], "range": ["#f08080", "#2c58c6", "#35b9ec"]}},
       "strokeDash": {"field": "k", "type": "nominal", "scale": {"domain": ["f", "t", "s"], "range": [[1, 0], [12, 5], [14, 4, 3, 4]]}},
       "strokeWidth": {"field": "k", "type": "nominal", "scale": {"domain": ["f", "t", "s"], "range": [1.2, 3, 3]}}
     }},
    {"data": {"name": "sr"}, "transform": [{"fold": ["s"], "as": ["k", "v"]}], "mark": {"type": "line"},
     "encoding": {
       "y": {"field": "v", "type": "quantitative", "scale": {"domain": [16.3, 67.1], "nice": false, "zero": false}},
       "color": {"field": "k", "type": "nominal", "scale": {"domain": ["f", "t", "s"], "range": ["#f08080", "#2c58c6", "#35b9ec"]}},
       "strokeDash": {"field": "k", "type": "nominal", "scale": {"domain": ["f", "t", "s"], "range": [[1, 0], [12, 5], [14, 4, 3, 4]]}},
       "strokeWidth": {"field": "k", "type": "nominal", "scale": {"domain": ["f", "t", "s"], "range": [1.2, 3, 3]}}
     }}
  ]
},
{
  "width": 1114, "height": 136,
  "resolve": {"scale": {"y": "independent"}},
  "encoding": {"x": {"field": "h", "type": "quantitative", "scale": {"domain": [-5.45, 167.4], "nice": false, "zero": false}, "axis": {"values": [0, 48, 96, 144], "labelExpr": "'Dec-' + (21 + datum.value / 24)", "grid": false, "title": null, "tickSize": 8, "tickWidth": 1.5, "labelPadding": 7, "labelFlush": false}}},
  "layer": [
    {"data": {"name": "vg"}, "mark": {"type": "rule", "color": "#d0d0d0", "strokeDash": [3, 3], "strokeWidth": 1}},
    {"data": {"name": "vv"}, "transform": [{"fold": ["w"], "as": ["k", "v"]}], "mark": {"type": "line"},
     "encoding": {
       "y": {"field": "v", "type": "quantitative", "scale": {"domain": [-0.03, 1.04], "nice": false, "zero": false}, "axis": {"orient": "right", "values": [0, 0.2, 0.4, 0.6, 0.8, 1.0], "format": ".1f", "grid": false, "tickSize": 5, "labelPadding": 1, "tickColor": "#aaaaaa", "domainColor": "#aaaaaa", "labelColor": "#999999", "title": "Valve state", "titleFont": "DejaVu Sans", "titleColor": "#cccccc", "titleX": 66, "titleY": 68, "titleAngle": -90, "titleBaseline": "bottom", "titleAlign": "center"}},
       "color": {"field": "k", "type": "nominal", "scale": {"domain": ["i", "j", "w"], "range": ["#000000", "#ff3333", "#b0b0b0"]}, "legend": {"title": null, "legendX": -26, "legendY": -21, "columnPadding": 68.6, "labelExpr": "datum.label == 'i' ? 'Indoor temperature Tₜⁱ' : datum.label == 'j' ? 'Simulated indoor temperature T̂ₜⁱ\u00a0\u00a0\u00a0' : 'Radiator valve states f̂ₜᵛᵃˡᵛᵉ'"}},
       "strokeDash": {"field": "k", "type": "nominal", "scale": {"domain": ["i", "j", "w"], "range": [[1, 0], [12, 5], [1, 0]]}},
       "strokeWidth": {"field": "k", "type": "nominal", "scale": {"domain": ["i", "j", "w"], "range": [3, 3, 2]}}
     }},
    {"layer": [
      {"data": {"name": "ti"}, "transform": [{"fold": ["i"], "as": ["k", "v"]}], "mark": {"type": "line"},
       "encoding": {
         "y": {"field": "v", "type": "quantitative", "scale": {"domain": [14.58, 25.42], "nice": false, "zero": false}, "axis": {"values": [16, 18, 20, 22, 24], "labelExpr": "datum.value % 4 === 0 ? datum.label : ''", "grid": true, "ticks": false, "labelAngle": -90, "labelAlign": "center", "labelBaseline": "alphabetic", "labelPadding": 19, "title": "[°C]", "titleX": -58, "titleY": 68, "titleAngle": -90, "titleBaseline": "bottom", "titleAlign": "center"}},
         "color": {"field": "k", "type": "nominal", "scale": {"domain": ["i", "j", "w"], "range": ["#000000", "#ff3333", "#b0b0b0"]}},
         "strokeDash": {"field": "k", "type": "nominal", "scale": {"domain": ["i", "j", "w"], "range": [[1, 0], [12, 5], [1, 0]]}},
         "strokeWidth": {"field": "k", "type": "nominal", "scale": {"domain": ["i", "j", "w"], "range": [3, 3, 2]}}
       }},
      {"data": {"name": "si"}, "transform": [{"fold": ["j"], "as": ["k", "v"]}], "mark": {"type": "line"},
       "encoding": {
         "y": {"field": "v", "type": "quantitative", "scale": {"domain": [14.58, 25.42], "nice": false, "zero": false}},
         "color": {"field": "k", "type": "nominal", "scale": {"domain": ["i", "j", "w"], "range": ["#000000", "#ff3333", "#b0b0b0"]}},
         "strokeDash": {"field": "k", "type": "nominal", "scale": {"domain": ["i", "j", "w"], "range": [[1, 0], [12, 5], [1, 0]]}},
         "strokeWidth": {"field": "k", "type": "nominal", "scale": {"domain": ["i", "j", "w"], "range": [3, 3, 2]}}
       }}
    ]}
  ]
}
]
}
